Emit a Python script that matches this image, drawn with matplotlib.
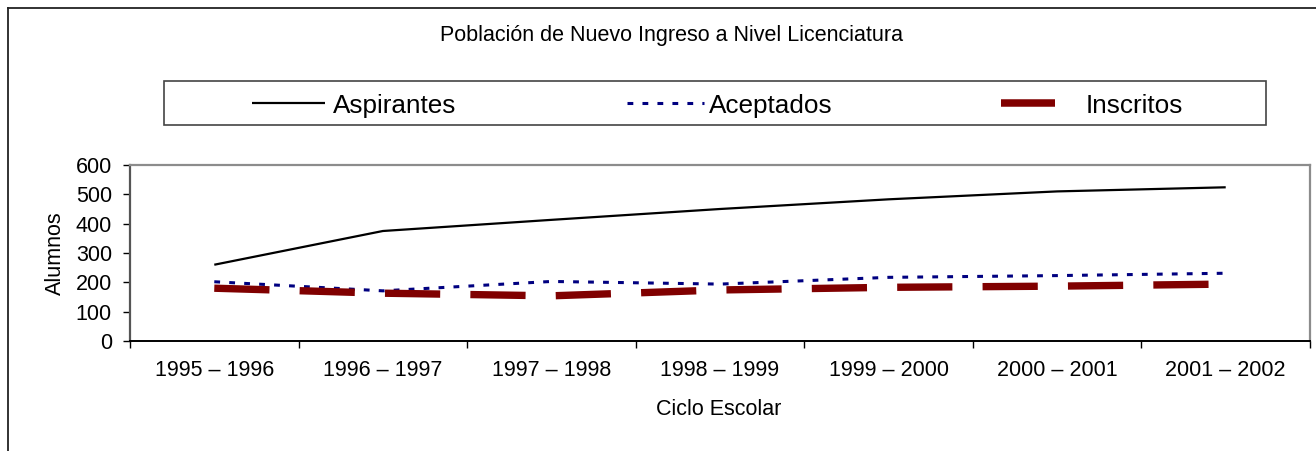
import matplotlib
matplotlib.use("Agg")
import matplotlib.pyplot as plt
from matplotlib.lines import Line2D
from matplotlib.patches import Rectangle
import numpy as np

plt.rcParams['font.family'] = ['Liberation Sans', 'DejaVu Sans']

# ---- data ----
title = "Población de Nuevo Ingreso a Nivel Licenciatura"
categories = ["1995 – 1996", "1996 – 1997", "1997 – 1998", "1998 – 1999",
              "1999 – 2000", "2000 – 2001", "2001 – 2002"]
series_names = ["Aspirantes", "Aceptados", "Inscritos"]
aspirantes = [260, 375, 413, 450, 483, 510, 524]
aceptados = [202, 171, 203, 194, 217, 223, 231]
inscritos = [180, 163, 154, 174, 183, 187, 194]
y_ticks = [0, 100, 200, 300, 400, 500, 600]
x_label = "Ciclo Escolar"
y_label = "Alumnos"

W, H = 1316, 451
fig = plt.figure(figsize=(W / 100, H / 100), dpi=100)


def fx(px):
    return px / W


def fy(py):
    return 1 - py / H


# outer chart border (only top/left visible in reference)
fig.add_artist(Line2D([fx(8), fx(8)], [fy(8), fy(460)], color="#222222", lw=1.3,
                      transform=fig.transFigure))
fig.add_artist(Line2D([fx(8), fx(1330)], [fy(8), fy(8)], color="#222222", lw=1.3,
                      transform=fig.transFigure))

ax = fig.add_axes([fx(130), fy(341), fx(1310) - fx(130), fy(165) - fy(341)])

styles = [
    dict(color="black", lw=1.6, ls="-"),
    dict(color="#000080", lw=2.2, ls=(0, (1.9, 3.0))),
    dict(color="#800000", lw=5.3, ls=(0, (7.5, 4.1))),
]
data = [aspirantes, aceptados, inscritos]
x = np.arange(len(categories))
for vals, st in zip(data, styles):
    ax.plot(x, vals, color=st["color"], lw=st["lw"], linestyle=st["ls"],
            solid_capstyle="butt", dash_capstyle="butt", clip_on=False)

ax.set_xlim(-0.5, len(categories) - 0.5)
ax.set_ylim(0, 600)
ax.set_yticks(y_ticks)
ax.set_yticklabels([str(v) for v in y_ticks], fontsize=15.5)
ax.tick_params(axis="y", length=5, width=1, pad=8, color="black")

ax.set_xticks(np.arange(-0.5, len(categories)))
ax.set_xticklabels([])
ax.set_xticks(x, minor=True)
ax.set_xticklabels(categories, minor=True, fontsize=15.5)
ax.tick_params(axis="x", which="major", length=5, width=1, color="black")
ax.tick_params(axis="x", which="minor", length=0, pad=14)

for s in ["top", "right"]:
    ax.spines[s].set_color("#8c8c8c")
    ax.spines[s].set_linewidth(1.6)
ax.spines["left"].set_color("#555555")
ax.spines["left"].set_linewidth(1.6)
ax.spines["bottom"].set_color("black")
ax.spines["bottom"].set_linewidth(1.4)

# labels
fig.text(fx(671), fy(41), title, ha="center", va="baseline", fontsize=15.5)
fig.text(fx(719), fy(415), x_label, ha="center", va="baseline", fontsize=15.5)
fig.text(fx(55), fy(253), y_label, ha="center", va="center", rotation=90, fontsize=15.5)

# legend box
fig.add_artist(Rectangle((fx(164), fy(125)), fx(1266) - fx(164), fy(81) - fy(125),
                         transform=fig.transFigure, fill=False, edgecolor="#444444", lw=1.2))
handle_x = [(252, 325), (627, 704), (1001, 1055)]
text_x = [333, 709, 1086]
handle_lw = [1.6, 2.2, 5.4]
ly = 102.5
for name, st, (a, b), tx, hlw in zip(series_names, styles, handle_x, text_x, handle_lw):
    ls = st["ls"] if name == "Aceptados" else "-"
    fig.add_artist(Line2D([fx(a), fx(b)], [fy(ly), fy(ly)], color=st["color"], lw=hlw,
                          linestyle=ls, solid_capstyle="butt", dash_capstyle="butt",
                          transform=fig.transFigure))
    fig.text(fx(tx), fy(113), name, ha="left", va="baseline", fontsize=18.8)

fig.savefig("out.png", dpi=100)
